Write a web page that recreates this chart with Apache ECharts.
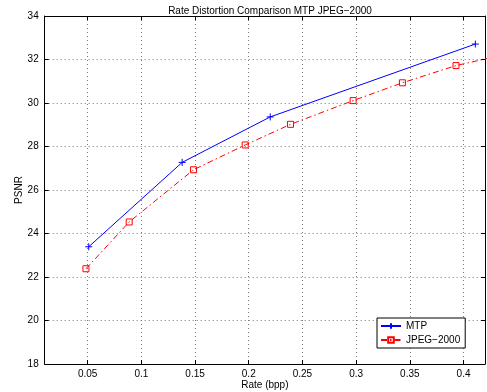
<!DOCTYPE html>
<html><head><meta charset="utf-8">
<script src="https://cdn.jsdelivr.net/npm/echarts@6/dist/echarts.min.js"></script>
<style>html,body{margin:0;padding:0;background:#fff}#c{width:487px;height:392px}</style>
</head><body><div id="c"></div>
<script>
const titleText = 'Rate Distortion Comparison MTP JPEG\u22122000';
const xTicks = [0.05, 0.1, 0.15, 0.2, 0.25, 0.3, 0.35, 0.4];
const yTicks = [18, 20, 22, 24, 26, 28, 30, 32, 34];
const mtpRate = [0.051, 0.138, 0.220, 0.411];
const mtpPsnr = [23.39, 27.27, 29.36, 32.71];
const jpgRate = [0.0484, 0.0887, 0.1486, 0.1967, 0.2389, 0.2972, 0.3431, 0.393, 0.445];
const jpgPsnr = [22.38, 24.53, 26.93, 28.07, 29.02, 30.11, 30.93, 31.72, 32.3];

const font = 'Liberation Sans, Arial, Helvetica, sans-serif';
const chart = echarts.init(document.getElementById('c'), null, {renderer: 'canvas'});
const gridLine = {show: true, lineStyle: {color: '#777', type: [1, 3], width: 1}};
const plus = 'path://M0,5L10,5M5,0L5,10';
chart.setOption({
  animation: false,
  backgroundColor: '#fff',
  title: {text: titleText, left: 265, textAlign: 'center', top: 1,
    textStyle: {fontFamily: font, fontSize: 10, fontWeight: 'normal', color: '#000'}},
  grid: {left: 44.7, right: 2, top: 16, bottom: 28, containLabel: false, outerBoundsMode: 'none'},
  legend: {
    orient: 'vertical', left: 377, top: 318, itemWidth: 20, itemHeight: 7, itemGap: 4,
    padding: [3, 5, 3, 3], borderColor: '#000', borderWidth: 1, backgroundColor: '#fff',
    textStyle: {fontFamily: font, fontSize: 10, color: '#000'},
    data: ['MTP', 'JPEG\u22122000']
  },
  xAxis: [{
    type: 'value', min: 0.01, max: 0.42, position: 'bottom',
    name: 'Rate (bpp)', nameLocation: 'middle', nameGap: 16, nameMoveOverlap: false,
    nameTextStyle: {fontFamily: font, fontSize: 10, color: '#000'},
    axisLine: {onZero: false, lineStyle: {color: '#000', width: 1}},
    axisTick: {inside: true, length: 4, customValues: xTicks, lineStyle: {color: '#000'}},
    axisLabel: {customValues: xTicks, margin: 5, fontFamily: font, fontSize: 10, color: '#000'},
    splitLine: gridLine
  }, {
    type: 'value', min: 0.01, max: 0.42, position: 'top',
    axisLine: {onZero: false, lineStyle: {color: '#000', width: 1}},
    axisTick: {inside: true, length: 4, customValues: xTicks, lineStyle: {color: '#000'}},
    axisLabel: {show: false}, splitLine: {show: false}
  }],
  yAxis: [{
    type: 'value', min: 18, max: 34, interval: 2, position: 'left',
    name: 'PSNR', nameLocation: 'middle', nameGap: 20, nameRotate: 90, nameMoveOverlap: false,
    nameTextStyle: {fontFamily: font, fontSize: 10, color: '#000'},
    axisLine: {show: true, onZero: false, lineStyle: {color: '#000', width: 1}},
    axisTick: {show: true, inside: true, length: 4, lineStyle: {color: '#000'}},
    axisLabel: {margin: 6, fontFamily: font, fontSize: 10, color: '#000'},
    splitLine: gridLine
  }, {
    type: 'value', min: 18, max: 34, interval: 2, position: 'right',
    axisLine: {show: true, onZero: false, lineStyle: {color: '#000', width: 1}},
    axisTick: {show: true, inside: true, length: 4, lineStyle: {color: '#000'}},
    axisLabel: {show: false}, splitLine: {show: false}
  }],
  series: [{
    name: 'MTP', type: 'line', xAxisIndex: 0, yAxisIndex: 0,
    data: mtpRate.map((r, i) => [r, mtpPsnr[i]]),
    symbol: plus, symbolSize: 7, clip: true,
    lineStyle: {color: '#0000ff', width: 1},
    itemStyle: {color: '#0000ff', borderColor: '#0000ff', borderWidth: 1}
  }, {
    name: 'JPEG\u22122000', type: 'line', xAxisIndex: 0, yAxisIndex: 0,
    data: jpgRate.map((r, i) => [r, jpgPsnr[i]]),
    symbol: 'rect', symbolSize: 6, clip: true,
    lineStyle: {color: '#ff0000', width: 1, type: [6, 3, 1.5, 3]},
    itemStyle: {color: 'rgba(255,255,255,0)', borderColor: '#ff0000', borderWidth: 1}
  }]
});
</script></body></html>
